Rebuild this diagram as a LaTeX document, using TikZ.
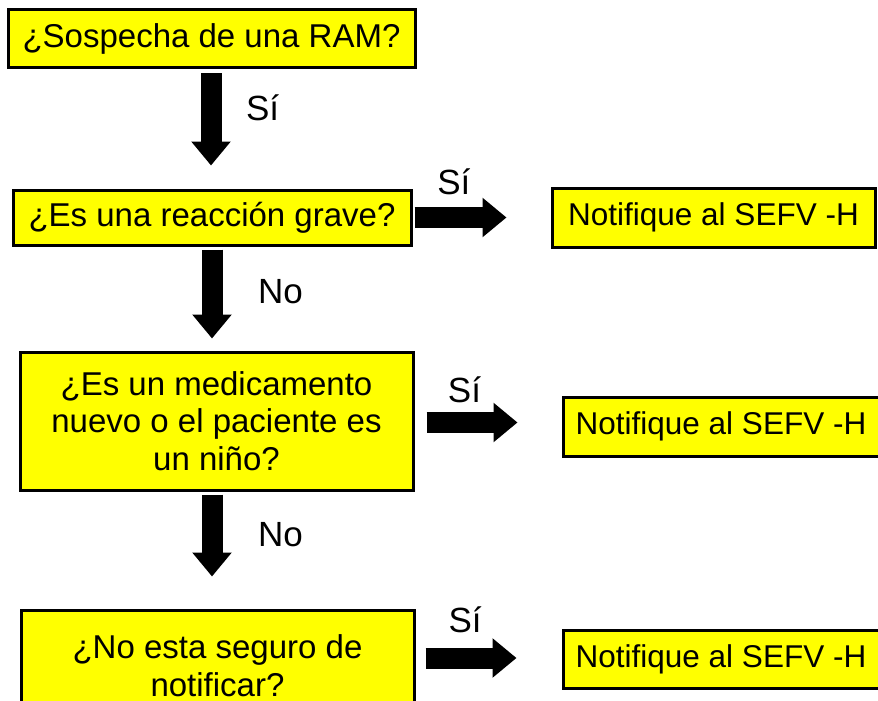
\documentclass[tikz,border=0pt]{standalone}
\usepackage{fontspec}
\setmainfont{Liberation Sans}
\usetikzlibrary{arrows.meta}
\definecolor{boxcol}{RGB}{255,255,0}

\begin{document}
\begin{tikzpicture}[
			x=1pt,
			y=-1pt,
			qbox/.style={
				draw=black,
				rectangle,
				line width=3pt,
				fill=boxcol,
				align=center,
				inner sep=0pt,
				font=\fontsize{33}{37.5}\selectfont
			},
			nbox/.style={
				qbox,
				font=\fontsize{31.5}{36}\selectfont
			},
			fat/.style={
				line width=21pt,
				-{Triangle[length=24pt,width=38pt]}
			},
			lbl/.style={
				inner sep=0pt,
				outer sep=0pt,
				font=\fontsize{35}{40}\selectfont
			}
			]
			\useasboundingbox (0,0) rectangle (878,701);
			\clip (0,0) rectangle (878,701);

			% Questions
			\node[qbox, minimum width=407pt, minimum height=58pt] (ram) at (211.5,39) {¿Sospecha de una RAM?};
			\node[qbox, minimum width=398pt, minimum height=55pt] (grave) at (212,217.5) {¿Es una reacción grave?};
			\node[qbox, minimum width=393pt, minimum height=138pt] (nuevo) at (216.5,421) {¿Es un medicamento\\nuevo o el paciente es\\un niño?};
			\node[qbox, minimum width=393pt, minimum height=111pt] (seguro) at (217.5,665.5) {¿No esta seguro de\\notificar?};

			% Notify
			\node[nbox, minimum width=323pt, minimum height=59pt] (notA) at (713.5,217.5) {Notifique al SEFV -H};
			\node[nbox, minimum width=316pt, minimum height=59pt] (notB) at (721,426.5) {Notifique al SEFV -H};
			\node[nbox, minimum width=316pt, minimum height=58pt] (notC) at (721,659) {Notifique al SEFV -H};

			% Arrows
			\draw[fat, shorten <=4pt, shorten >=23pt] ([xshift=-0.5pt]ram.south) -- ([xshift=-0.5pt]ram.south |- grave.north)
				node[lbl, pos=0.32, right=35pt] {Sí};
			\draw[fat, shorten <=3pt, shorten >=12pt] (grave.south) -- (grave.south |- nuevo.north)
				node[lbl, pos=0.43, right=46pt] {No};
			\draw[fat, shorten <=3pt, shorten >=32pt] (nuevo.south -| grave.south) -- (seguro.north -| grave.south)
				node[lbl, pos=0.37, right=46pt] {No};

			\draw[fat, shorten <=2pt, shorten >=44pt] (grave.east) -- (notA.west)
				node[lbl, pos=0.3, above=22.5pt] {Sí};
			\draw[fat, shorten <=12pt, shorten >=44pt] (nuevo.east |- 0,422.5) -- (notB.west |- 0,422.5)
				node[lbl, pos=0.34, above=19.5pt] {Sí};
			\draw[fat, shorten <=10pt, shorten >=45pt] (seguro.east |- 0,658) -- (notC.west |- 0,658)
				node[lbl, pos=0.34, above=25pt] {Sí};
		\end{tikzpicture}
\end{document}
